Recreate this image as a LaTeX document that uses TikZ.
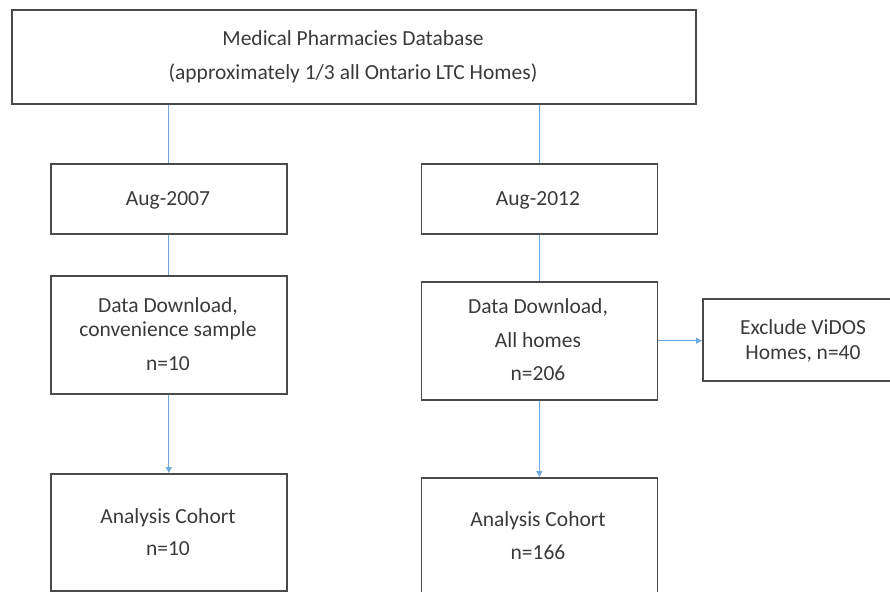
\documentclass[tikz,border=0pt]{standalone}
\usepackage{fontspec}
\setmainfont{Carlito}
\usetikzlibrary{arrows.meta}
\definecolor{boxline}{HTML}{4A4A4A}
\definecolor{conn}{HTML}{6FA8DC}
\definecolor{txt}{HTML}{3A3A3A}
\begin{document}
\begin{tikzpicture}[x=1pt,y=-1pt,
  box/.style={draw=boxline,line width=1.6pt,rectangle,inner sep=0pt,anchor=north west},
  lbl/.style={anchor=base,inner sep=0pt,text=txt,font=\fontsize{21.5}{24}\selectfont},
  link/.style={draw=conn,line width=0.9pt},
  arr/.style={link,-{Triangle[length=6pt,width=6pt]}}]
\useasboundingbox (0,0) rectangle (890,591);
\clip (0,0) rectangle (890,591);
% boxes
\node[box,minimum width=684pt,minimum height=94pt] (top) at (11,9) {};
\node[box,minimum width=236pt,minimum height=70pt] (aug1) at (50,163) {};
\node[box,minimum width=236pt,minimum height=70pt] (aug2) at (420.5,163) {};
\node[box,minimum width=236pt,minimum height=118pt] (dd1) at (50,275) {};
\node[box,minimum width=236pt,minimum height=118pt] (dd2) at (420.5,281) {};
\node[box,minimum width=202pt,minimum height=82pt] (ex) at (702,298) {};
\node[box,minimum width=236pt,minimum height=117pt] (ac1) at (50,473) {};
\node[box,minimum width=236pt,minimum height=125pt] (ac2) at (420.5,477) {};
% texts
\node[lbl] (t1) at (353,46) {Medical Pharmacies Database};
\node[lbl] (t2) at (353,80) {(approximately 1/3 all Ontario LTC Homes)};
\node[lbl] (a1) at (168,205) {Aug-2007};
\node[lbl] (a2) at (538,205) {Aug-2012};
\node[lbl] (d11) at (168,312) {Data Download,};
\node[lbl] (d12) at (168,336) {convenience sample};
\node[lbl] (d13) at (168,370) {n=10};
\node[lbl] (d21) at (538,313) {Data Download,};
\node[lbl] (d22) at (538,347) {All homes};
\node[lbl] (d23) at (538,380) {n=206};
\node[lbl] (e1) at (803,334) {Exclude ViDOS};
\node[lbl] (e2) at (803,359) {Homes, n=40};
\node[lbl] (c11) at (168,523) {Analysis Cohort};
\node[lbl] (c12) at (168,555) {n=10};
\node[lbl] (c21) at (538,526) {Analysis Cohort};
\node[lbl] (c22) at (538,559) {n=166};
% connectors
\draw[link] (top.south -| aug1.north) -- (aug1.north);
\draw[link] (top.south -| aug2.north) -- (aug2.north);
\draw[link] (aug1.south) -- (dd1.north);
\draw[link] (aug2.south) -- (dd2.north);
\draw[arr] (dd1.south) -- (ac1.north);
\draw[arr] (dd2.south) -- (ac2.north);
\coordinate (exin) at (ex.west |- 0,340.7);
\draw[arr] (dd2.east |- exin) -- (exin);
\end{tikzpicture}
\end{document}
